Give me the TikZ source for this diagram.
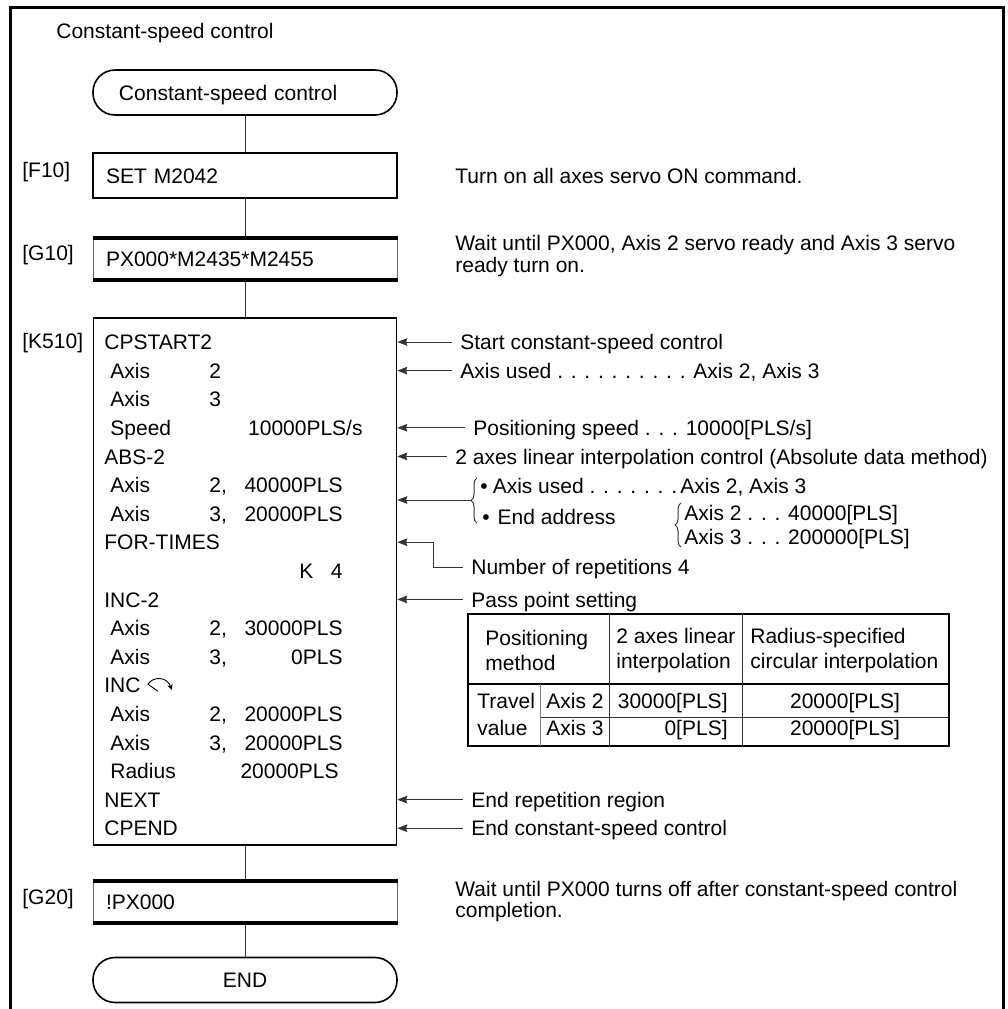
\documentclass[tikz,border=0pt]{standalone}
\usepackage{fontspec}
\setmainfont{Liberation Sans}
\usetikzlibrary{arrows.meta,decorations.pathreplacing}

\tikzset{
  term/.style={draw,line width=0.8pt,rounded corners=11pt,minimum width=152pt,minimum height=22.5pt,inner sep=0pt,text height=7.6pt,text depth=0pt},
  stepbox/.style={draw,line width=0.8pt,minimum width=152pt,minimum height=22.5pt,text width=139pt,inner xsep=6.5pt,inner ysep=0pt,align=left,text height=7.6pt,text depth=0pt},
  waitbox/.style={stepbox,draw=black!60,line width=0.5pt},
  bar/.style={line width=2pt},
  tag/.style={anchor=west,inner sep=0pt,text height=7.6pt,text depth=0pt},
  row/.style={tag},
  note/.style={tag,inner xsep=4pt},
  cmt/.style={anchor=west,align=left,inner sep=0pt,font=\fontsize{10.5}{9.5}\selectfont},
  cell/.style={anchor=west,align=left,inner sep=0pt},
  link/.style={line width=0.5pt,black!80},
  arr/.style={link,-{Stealth[length=5pt,width=3.8pt,inset=0.6pt]}},
}

\begin{document}
\begin{tikzpicture}[x=0.5pt,y=-0.5pt,font=\fontsize{10.5}{12.5}\selectfont]
\useasboundingbox (0,0) rectangle (1008,1009);
\draw[line width=1.5pt] (10,1009) -- (10,7) -- (1003,7) -- (1003,1009);
\node[tag] (title) at (56,31) {Constant-speed control};

% flow chart
\node[term,text width=126pt,align=left] (start) at (245,92.5) {Constant-speed control};
\node[stepbox] (f10) at (245,175.5) {SET M2042};
\node[waitbox] (g10) at (245,258.5) {PX000*M2435*M2455};
\node[draw,line width=0.8pt,minimum width=151.5pt,minimum height=263.5pt,inner sep=0pt] (k510) at (245,581.5) {};
\node[waitbox] (g20) at (245,901.5) {!PX000};
\node[term,align=center] (stop) at (245,980) {END};
\foreach \b in {g10,g20} {
  \draw[bar] ([yshift=-1pt]\b.north west) -- ([yshift=-1pt]\b.north east);
  \draw[bar] ([yshift=1pt]\b.south west) -- ([yshift=1pt]\b.south east);
}
\draw[link] (start) -- (f10);
\draw[link] (f10) -- (g10);
\draw[link] (g10) -- (k510);
\draw[link] (k510) -- (g20);
\draw[link] (g20) -- (stop);

\node[tag] (lf10) at (22,170) {[F10]};
\node[tag] (lg10) at (22,253) {[G10]};
\node[tag] (lk510) at (22,341) {[K510]};
\node[tag] (lg20) at (22,897) {[G20]};

\node[cmt] (cf10) at (455,175.5) {Turn on all axes servo ON command.};
\node[cmt] (cg10) at (455,256) {Wait until PX000, Axis 2 servo ready and Axis 3 servo\\ready turn on.};
\node[cmt] (cg20) at (455,901.5) {Wait until PX000 turns off after constant-speed control\\completion.};

% servo program lines
\foreach \i/\t in {1/CPSTART2,5/ABS-2,8/FOR-TIMES,10/INC-2,13/INC,17/NEXT,18/CPEND}
  \node[row] (r\i) at (104,{342+28.6*(\i-1)}) {\t};
\foreach \i/\t/\n/\v/\e in {2/Axis/2//343,3/Axis/3//343,4/Speed//{10000PLS/s}/363,
    6/Axis/{2,}/40000PLS/343,7/Axis/{3,}/20000PLS/343,9///{K~~~4}/343,
    11/Axis/{2,}/30000PLS/343,12/Axis/{3,}/0PLS/343,14/Axis/{2,}/20000PLS/343,
    15/Axis/{3,}/20000PLS/343,16/Radius//20000PLS/339} {
  \node[row] (r\i) at (110,{342+28.6*(\i-1)}) {\t};
  \node[row] (p\i) at (209,{342+28.6*(\i-1)}) {\n};
  \node[row,anchor=east] (v\i) at (\e,{342+28.6*(\i-1)}) {\v};
}
\draw[line width=0.45pt,shift={(r13.east)},-{Stealth[length=3pt,width=2.6pt]}]
  (17,6) -- (7,-1) .. controls (12,-9) and (26,-9) .. (31,5);

% explanations
\node[note] (cstart) at (452,0 |- r1) {Start constant-speed control};
\node[note] (caxis) at (452,0 |- r2) {Axis used . . . . . . . . . . Axis 2, Axis 3};
\node[note] (cspeed) at (465,0 |- r4) {Positioning speed . . . 10000[PLS/s]};
\node[note] (cabs) at (447,0 |- r5) {2 axes linear interpolation control (Absolute data method)};
\coordinate (b1) at (471,500);
\draw[link,decorate,decoration={brace,amplitude=3pt}] (477,523) -- (477,478);
\node[note,inner xsep=1pt] (bax) at (478,486) {\textbullet\hspace{2.5pt}Axis used . . . . . . .};
\node[note,inner xsep=1pt] (baxv) at (678,486) {Axis 2, Axis 3};
\node[note,inner xsep=1pt] (bend) at (480,517) {\textbullet\hspace{4pt}End address};
\draw[link,decorate,decoration={brace,amplitude=3pt}] (681,547) -- (681,503);
\node[note,inner xsep=1pt] (bend2) at (682,513) {Axis 2 . . . 40000[PLS]};
\node[note,inner xsep=1pt] (bend3) at (682,537) {Axis 3 . . . 200000[PLS]};
\node[note] (crep) at (463,567) {Number of repetitions 4};
\node[note] (cpass) at (463,0 |- r10) {Pass point setting};
\node[note] (cnext) at (463,0 |- r17) {End repetition region};
\node[note] (cend) at (463,0 |- r18) {End constant-speed control};
\foreach \c in {cstart,caxis,cspeed,cabs,cpass,cnext,cend}
  \draw[arr] (\c.west) -- (k510.east |- \c.west);
\draw[arr] (b1) -- (k510.east |- b1);
\draw[arr] (crep.west) -- (433,0 |- crep.west) |- (k510.east |- r8);

% pass point table
\draw[line width=1pt] (468,614) rectangle (949,746);
\draw[line width=1pt] (468,684) -- (949,684);
\draw[link] (609,614) -- (609,746) (742,614) -- (742,746) (540,717) -- (949,717);
\draw[link,black!50] (540,684) -- (540,746);
\node[cell] (th1) at (485,650.5) {Positioning\\method};
\node[cell] (th2) at (616,650.5) {2 axes linear\\interpolation};
\node[cell] (th3) at (750,650.5) {Radius-specified\\circular interpolation};
\node[cell,font=\fontsize{10.5}{13.5}\selectfont] (tv) at (477,714.5) {Travel\\value};
\node[tag] (ta2) at (546,701) {Axis 2};
\node[tag] (ta3) at (546,728) {Axis 3};
\node[tag,anchor=east] (tl2) at (728,701) {30000[PLS]};
\node[tag,anchor=east] (tl3) at (728,728) {0[PLS]};
\node[tag,anchor=center] (tc2) at (845,701) {20000[PLS]};
\node[tag,anchor=center] (tc3) at (845,728) {20000[PLS]};
\end{tikzpicture}
\end{document}
